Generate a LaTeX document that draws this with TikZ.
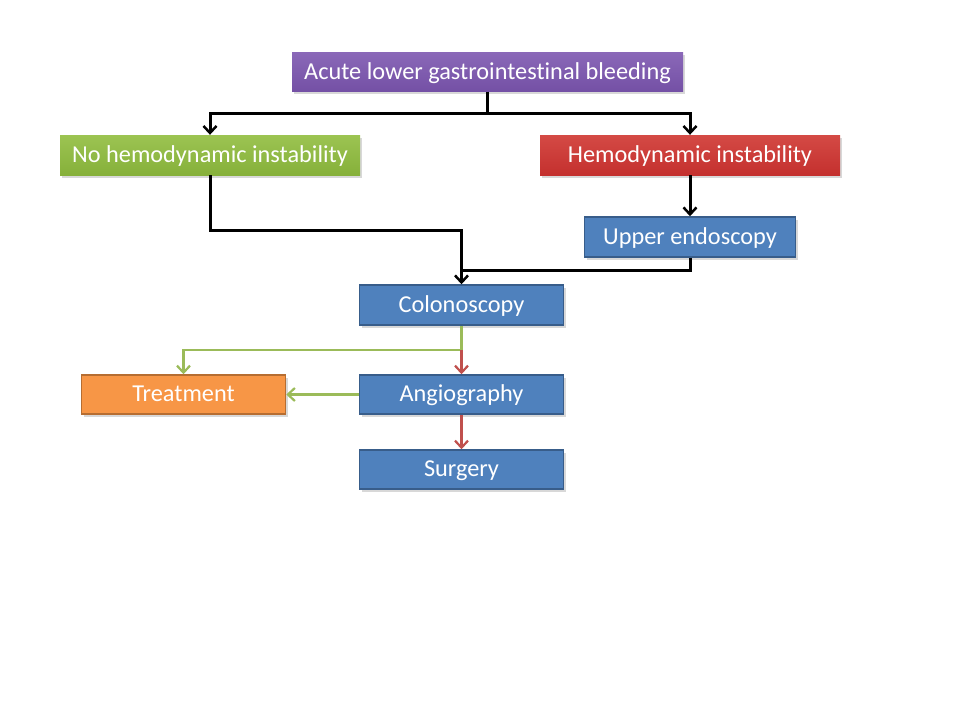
\documentclass[tikz,border=0pt]{standalone}
\usepackage{fontspec}
\setmainfont{Carlito}[Ligatures=NoCommon]
\usetikzlibrary{arrows.meta,shadows}
\definecolor{cpurple}{HTML}{7450A5}
\definecolor{cpurpleL}{HTML}{8A68B8}
\definecolor{cgreen}{HTML}{86B03A}
\definecolor{cgreenL}{HTML}{9CC452}
\definecolor{cred}{HTML}{C4302E}
\definecolor{credL}{HTML}{D44A45}
\definecolor{cblue}{HTML}{4F81BD}
\definecolor{cblueB}{HTML}{385D8A}
\definecolor{corange}{HTML}{F79646}
\definecolor{corangeB}{HTML}{B66D31}
\definecolor{lgreen}{HTML}{9BBB59}
\definecolor{lred}{HTML}{C0504D}
\tikzset{
  x=1pt,y=-1pt,
  box/.style={rectangle, minimum height=39pt, inner sep=0pt, text=white,
    text height=18pt, text depth=4pt,
    font=\fontsize{24.3}{28}\selectfont,
    drop shadow={shadow xshift=2pt,shadow yshift=-2.5pt,opacity=0.3}},
  shadeP/.style={box, top color=cpurpleL, bottom color=cpurple, draw=none},
  shadeG/.style={box, top color=cgreenL, bottom color=cgreen, draw=none},
  shadeR/.style={box, top color=credL, bottom color=cred, draw=none},
  bluebox/.style={box, fill=cblue, draw=cblueB, line width=1.5pt},
  orangebox/.style={box, fill=corange, draw=corangeB, line width=1.5pt},
  blk/.style={line width=3pt, black},
  blkarr/.style={blk, -{Straight Barb[length=7pt,width=13pt,line width=2.5pt]}},
  garr/.style={line width=2.8pt, lgreen, -{Straight Barb[length=7pt,width=13pt,line width=2.2pt]}},
  gline/.style={line width=2.8pt, lgreen},
  rarr/.style={line width=2.8pt, lred, -{Straight Barb[length=7pt,width=13pt,line width=2.2pt]}},
}
\begin{document}
\begin{tikzpicture}
\useasboundingbox (0,0) rectangle (960,720);
\fill[white] (0,0) rectangle (960,720);

\node[shadeP, minimum width=391pt] (acute) at (487.5,72) {Acute lower gastrointestinal bleeding};
\node[shadeG, minimum width=300pt, minimum height=40pt] (nohemo) at (210,155) {No hemodynamic instability};
\node[shadeR, minimum width=300pt, minimum height=40pt] (hemo) at (690,155) {Hemodynamic instability};
\node[bluebox, minimum width=211pt, minimum height=40pt] (upper) at (690,237) {Upper endoscopy};
\node[bluebox, minimum width=204pt, minimum height=40pt] (colon) at (461.5,305) {Colonoscopy};
\node[bluebox, minimum width=204pt] (angio) at (461.5,394.5) {Angiography};
\node[orangebox, minimum width=204pt] (treat) at (183.5,394.5) {Treatment};
\node[bluebox, minimum width=204pt] (surg) at (461.5,469.5) {Surgery};

\coordinate (split) at (487.5,113);
\coordinate (join) at (461.5,270);
\coordinate (gsplit) at (461.5,350);

% top split
\draw[blk] (acute.south) -- (split);
\draw[blkarr] (split) -| (nohemo.north);
\draw[blkarr] (split) -| (hemo.north);
% left branch to colonoscopy
\draw[blkarr] (nohemo.south) |- (461.5,230) -- (colon.north);
% right branch
\draw[blkarr] (hemo.south) -- (upper.north);
\draw[blk] (upper.south) |- (join);
% colonoscopy outputs
\draw[gline] (colon.south) -- (gsplit);
\draw[garr] (gsplit) -| (treat.north);
\draw[rarr] (gsplit) -- (angio.north);
\draw[garr] (angio.west) -- (treat.east);
\draw[rarr] (angio.south) -- (surg.north);
\end{tikzpicture}
\end{document}
